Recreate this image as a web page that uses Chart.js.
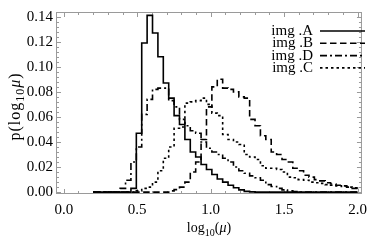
<!DOCTYPE html>
<html>
<head>
<meta charset="utf-8">
<script src="https://cdn.jsdelivr.net/npm/chart.js@4.4.1/dist/chart.umd.min.js"></script>
<style>
  html, body { margin: 0; padding: 0; background: #fff; }
  #chart { display: block; }
</style>
</head>
<body>
<canvas id="chart" width="374" height="244"></canvas>
<script>
// histogram bins: 49 equal bins in log10(mu) from 0.2 to 2.0
const binStart = 0.2;
const binEnd = 2.0;
const binCount = 49;

const seriesLabels = ['img .A', 'img .B', 'img .D', 'img .C'];

const imgA = [0, 0, 0, 0, 0, 0, 0.003, 0.047, 0.119, 0.141, 0.127, 0.108, 0.087, 0.075, 0.061, 0.054,
  0.042, 0.032, 0.028, 0.022, 0.018, 0.014, 0.0105, 0.008, 0.0055, 0.0035, 0.0018, 0.0006, 0.0002,
  0, 0, 0, 0, 0, 0, 0, 0, 0, 0, 0, 0, 0, 0, 0, 0, 0, 0, 0, 0];

const imgB = [0, 0, 0, 0, 0, 0, 0, 0, 0, 0, 0, 0, 0, 0.001, 0.002, 0.004, 0.008, 0.016, 0.024, 0.042,
  0.068, 0.084, 0.090, 0.083, 0.082, 0.080, 0.076, 0.075, 0.058, 0.053, 0.045, 0.042, 0.032, 0.030,
  0.026, 0.024, 0.019, 0.017, 0.0135, 0.012, 0.010, 0.009, 0.0075, 0.0065, 0.0055, 0.005, 0.004,
  0.003, 0.0025];

const imgD = [0, 0, 0, 0, 0.003, 0.0095, 0.024, 0.036, 0.062, 0.074, 0.082, 0.083, 0.083, 0.073, 0.068,
  0.058, 0.053, 0.049, 0.047, 0.040, 0.035, 0.032, 0.030, 0.027, 0.024, 0.020, 0.017, 0.015, 0.013,
  0.0115, 0.0095, 0.006, 0.0045, 0.003, 0.0018, 0.001, 0.0005, 0, 0, 0, 0, 0, 0, 0, 0, 0, 0, 0, 0];

const imgC = [0, 0, 0, 0, 0, 0, 0, 0.001, 0.003, 0.004, 0.008, 0.017, 0.027, 0.036, 0.051, 0.052,
  0.071, 0.072, 0.073, 0.075, 0.070, 0.063, 0.061, 0.046, 0.042, 0.040, 0.038, 0.030, 0.028, 0.026,
  0.021, 0.019, 0.019, 0.018, 0.016, 0.012, 0.0115, 0.010, 0.0095, 0.008, 0.0075, 0.007, 0.006,
  0.0055, 0.005, 0.0045, 0.004, 0.0035, 0.003];

const xTicks = [0.0, 0.5, 1.0, 1.5, 2.0];
const yTicks = [0.00, 0.02, 0.04, 0.06, 0.08, 0.10, 0.12, 0.14];

const serif = '"Liberation Serif", "DejaVu Serif", serif';
const frameColor = '#9a9a9a';

// turn bin heights into step points at the bin edges
function toSteps(values) {
  const w = (binEnd - binStart) / binCount;
  const pts = [{ x: binStart, y: values[0] }];
  values.forEach((v, i) => pts.push({ x: binStart + (i + 1) * w, y: v }));
  return pts;
}

const styles = [
  { dash: [] },
  { dash: [6.5, 3.5] },
  { dash: [7, 3, 2, 3] },
  { dash: [2.5, 3] }
];

const allSeries = [imgA, imgB, imgD, imgC];

// draw text pieces (with subscripts) in a row, centred on x; gap = extra letter spacing
function drawRich(ctx, parts, x, y, gap) {
  gap = gap || 0;
  let total = 0;
  parts.forEach(p => {
    ctx.font = (p.italic ? 'italic ' : '') + p.size + 'px ' + serif;
    p.w = 0;
    for (const ch of p.t) p.w += ctx.measureText(ch).width + gap;
    total += p.w;
  });
  total -= gap;
  let cx = x - total / 2;
  ctx.textAlign = 'left';
  ctx.textBaseline = 'alphabetic';
  parts.forEach(p => {
    ctx.font = (p.italic ? 'italic ' : '') + p.size + 'px ' + serif;
    for (const ch of p.t) {
      ctx.fillText(ch, cx, y + (p.dy || 0));
      cx += ctx.measureText(ch).width + gap;
    }
  });
}

const framePlugin = {
  id: 'frame',
  beforeDatasetsDraw(chart) {
    const { ctx, chartArea: a, scales } = chart;
    ctx.save();
    ctx.strokeStyle = frameColor;
    ctx.lineWidth = 1;
    ctx.strokeRect(a.left + 0.5, a.top + 0.5, a.right - a.left - 1, a.bottom - a.top - 1);
    ctx.beginPath();
    // x ticks every 0.1, major every 0.5
    for (let i = 0; i <= 20; i++) {
      const px = Math.round(scales.x.getPixelForValue(i / 10)) + 0.5;
      const len = i % 5 === 0 ? 5 : 3;
      ctx.moveTo(px, a.bottom); ctx.lineTo(px, a.bottom - len);
      ctx.moveTo(px, a.top); ctx.lineTo(px, a.top + len);
    }
    // y ticks every 0.004, major every 0.02
    for (let i = 0; i <= 35; i++) {
      const py = Math.round(scales.y.getPixelForValue(i * 0.004)) + 0.5;
      const len = i % 5 === 0 ? 5 : 3;
      ctx.moveTo(a.left, py); ctx.lineTo(a.left + len, py);
      ctx.moveTo(a.right, py); ctx.lineTo(a.right - len, py);
    }
    ctx.stroke();
    ctx.restore();
  },
  afterDraw(chart) {
    const { ctx, chartArea: a } = chart;
    ctx.save();
    ctx.fillStyle = '#000';
    // x title
    drawRich(ctx, [
      { t: 'log', size: 14 },
      { t: '10', size: 10, dy: 4 },
      { t: '(', size: 14 },
      { t: 'μ', size: 14, italic: true },
      { t: ')', size: 14 }
    ], (a.left + a.right) / 2, 232);
    // y title
    ctx.save();
    ctx.translate(20, 107);
    ctx.rotate(-Math.PI / 2);
    drawRich(ctx, [
      { t: 'p(log', size: 16 },
      { t: '10', size: 12, dy: 4 },
      { t: 'μ', size: 16, italic: true },
      { t: ')', size: 16 }
    ], 0, 0, 1);
    ctx.restore();

    // legend, top right inside the frame
    chart.data.datasets.forEach((ds, i) => {
      const y = 31 + i * 12.3;
      ctx.font = '15px ' + serif;
      ctx.textAlign = 'right';
      ctx.textBaseline = 'middle';
      ctx.fillText(ds.label, 313, y);
      ctx.beginPath();
      ctx.setLineDash(ds.borderDash);
      ctx.lineWidth = ds.borderWidth;
      ctx.strokeStyle = ds.borderColor;
      ctx.moveTo(320, y);
      ctx.lineTo(365, y);
      ctx.stroke();
    });
    ctx.restore();
  }
};

new Chart(document.getElementById('chart'), {
  type: 'line',
  data: {
    datasets: allSeries.map((vals, i) => ({
      label: seriesLabels[i],
      data: toSteps(vals),
      stepped: 'before',
      borderColor: '#000',
      borderWidth: 1.6,
      borderDash: styles[i].dash,
      pointRadius: 0,
      fill: false
    }))
  },
  options: {
    responsive: false,
    animation: false,
    devicePixelRatio: 1,
    layout: { padding: { top: 3, right: 5, left: 0, bottom: 0 } },
    plugins: {
      legend: { display: false },
      tooltip: { enabled: false }
    },
    scales: {
      x: {
        type: 'linear',
        min: -0.053,
        max: 2.03,
        afterFit: s => { s.height = 50; },
        afterBuildTicks: s => { s.ticks = xTicks.map(v => ({ value: v })); },
        grid: { display: false, drawTicks: false },
        border: { display: false },
        ticks: {
          padding: 7,
          maxRotation: 0,
          color: '#000',
          font: { family: serif, size: 15 },
          callback: v => v.toFixed(1)
        }
      },
      y: {
        type: 'linear',
        min: -0.0015,
        max: 0.1437,
        afterFit: s => { s.width = 56; },
        afterBuildTicks: s => { s.ticks = yTicks.map(v => ({ value: v })); },
        grid: { display: false, drawTicks: false },
        border: { display: false },
        ticks: {
          padding: 3,
          color: '#000',
          font: { family: serif, size: 15 },
          callback: v => v.toFixed(2)
        }
      }
    }
  },
  plugins: [framePlugin]
});
</script>
</body>
</html>
